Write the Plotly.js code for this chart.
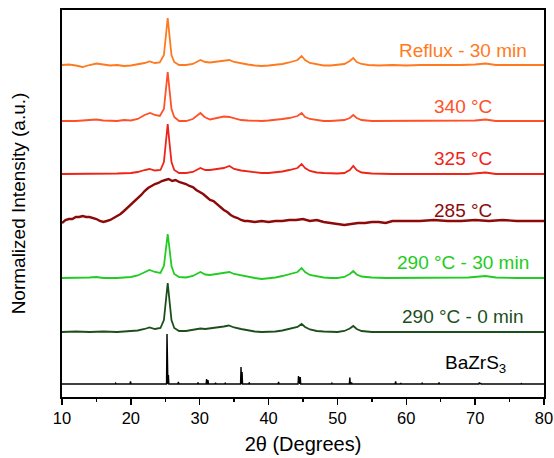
<!DOCTYPE html>
<html>
<head>
<meta charset="utf-8">
<script src="https://cdn.plot.ly/plotly-3.0.1.min.js"></script>
<style>html,body{margin:0;padding:0;background:#fff;}#chart{width:554px;height:458px;}</style>
</head>
<body>
<div id="chart"></div>
<script>
// ---- Data (2θ in degrees, intensity in arbitrary units above each pattern's own baseline) ----
const refluxX = [10,11,12,13,14,15,16,17,18,19,20,21,22,22.7,23.5,24.2,24.8,25.1,25.35,25.6,25.9,26.3,27,28,29,30.1,30.8,31.5,32.5,33.5,34.3,35,36,37,38,39,40,41,42,43,44.2,44.8,45.3,46,47,48,49,50,51,51.8,52.3,52.8,53.5,54.5,56,58,60,62,64,66,68,70,71.5,73,75,77,80];
const refluxY = [0,0.5,-0.5,-2,0,1.5,0.5,-0.5,0,-1,-0.5,0.5,2,3.5,2,2.5,10,30,47,30,10,3,0,0,1,5,3,2.5,3.5,4.5,5,3,1.5,0.5,-0.5,-1,-0.5,0,1,2.5,5,9,5,2,0.5,-0.5,-0.5,0,1,4,7,3,1,0,-0.5,0,-0.5,0,0,-0.5,0,0.5,1.5,0,0,-0.5,0];

const t340X = [10,12,14,15,16,18,19,20,21,22,22.8,23.5,24.2,24.8,25.1,25.35,25.6,25.9,26.3,27,28,29,30.1,30.7,31.5,32.5,33.5,34.3,35,36,37,38,39,40,41,42,43,44.2,44.8,45.3,46,47,48,49,50,51,51.8,52.3,52.8,53.5,55,58,60,62,65,68,70,71.5,73,76,80];
const t340Y = [0,0,1,1.5,0.5,0,1,0.5,2,6,8,6,5,12,32,49,32,12,4,0,0,2,8,4,1.5,3,4.5,4,2.5,1,0.5,0,0,0.5,1,2,3,5,8,4,2,1,0,0,0.5,1,3,6,3,1,0,0,0,0,0,0,0.5,1.5,0,0,0];

const t325X = [10,12,14,16,18,20,21,22,22.7,23.5,24.3,24.8,25.1,25.35,25.6,25.9,26.3,27,28,29,30.1,30.8,31.5,32.5,33.5,34.3,35,36,37,38,39,40,41,42,43,44.2,44.8,45.3,46,47,48,49,50,51,51.8,52.3,52.8,53.5,55,58,60,63,66,69,71.5,73,76,80];
const t325Y = [0,0,0.5,0,0.5,1,2,4,5,3.5,4,12,32,50,32,12,4,1,1,2,6,4,4,5,6,8,5,3.5,2.5,1.5,1,1,1.5,2.5,4,6,10,6,3,1.5,1,0.5,0.5,1,4,8,4,1.5,0.5,0,0,0,0,0,1.5,0,0,0];

const t285X = [10,10.5,11,11.5,12,12.5,13,13.5,14,14.5,15,15.5,16,16.5,17,17.5,18,18.5,19,19.5,20,20.5,21,21.5,22,22.5,23,23.5,24,24.5,25,25.5,26,26.5,27,27.5,28,28.5,29,29.5,30,30.5,31,31.5,32,32.5,33,33.5,34,34.5,35,35.5,36,36.5,37,38,39,40,41,42,43,44,45,46,47,48,49,50,51,52,53,54,55,56,57,58,60,62,64,66,68,70,72,74,76,78,80];
const t285Y = [-2,1,2,2,4,4,5,4,4,3,2,0,-1,0,1,3,5,7,10,13,17,20,23,26,30,33,35,37,38,40,41,42,40,41,39,38,37,35,34,31,29,27,24,21,20,17,14,11,9,6,4,3,1,0,0,-1,0,-1,0,0,1,1,2,0,1,-1,-2,-3,-4,-3,-2,-2,-1,-1,-2,0,0,0,1,0,0,1,0,1,0,0,0];

const t29030X = [10,12,14,15,16,18,19,20,21,22,22.7,23.5,24.3,24.8,25.1,25.35,25.6,25.9,26.3,27,28,29,30.1,30.8,31.5,32.5,33.5,34.3,35,36,37,38,39,40,41,42,43,44.2,44.8,45.3,46,47,48,49,50,51,51.8,52.3,52.8,53.5,55,57,60,63,66,69,71.5,73,76,80];
const t29030Y = [0,0,0.5,1,0,0,0.5,1,2.5,6,8,6,5,12,30,44,30,12,4,1,0.5,2,6,3.5,3,4,5,6,4,2.5,1,0,-1,-0.5,0.5,2,4,6,10,6,3,1.5,0.5,0,0,1,4,7,3.5,1.5,0.5,0,0,0,0,0.5,2,0.5,0,0];

const t2900X = [10,12,14,16,18,19,20,21,22,22.7,23.5,24.3,24.8,25.1,25.35,25.6,25.9,26.3,27,28,29,30.1,30.8,31.5,32.5,33.5,34.2,35,36,37,38,39,40,41,42,43,44.2,44.8,45.3,46,47,48,49,50,51,51.8,52.3,52.8,53.5,55,58,60,63,66,70,73,76,80];
const t2900Y = [0,0.5,0,0.5,0,0.5,0.5,1.5,3,4.5,3,4,12,32,49,32,12,4,1,1,2,3.5,3,3.5,4.5,5.5,6.5,4.5,3,1.5,0.5,0,0,0.5,1.5,3,5,8,5,2.5,1,0.5,0,0,1,3.5,6,3,1,0,0,0,0,0,0,0,0,0];

// BaZrS3 reference pattern: line positions (2θ) and heights
const refPos = [17.8,19.95,25.25,25.45,26.9,29.75,31.0,31.2,32.3,33.7,36.0,36.15,37.2,41.45,44.35,44.6,49.2,51.8,52.05,58.45,59.2,62.3,64.75,65.2,70.6,70.8,76.7];
const refH   = [0.8,2.5,50,9,2,1.5,5,4,1.2,0.8,17,12,1.5,2,8,7,0.8,6.5,1.5,2.5,1,0.8,1.5,0.6,1.5,1,0.5];

const labels = ['Reflux - 30 min','340 °C','325 °C','285 °C','290 °C - 30 min','290 °C - 0 min','BaZrS<sub>3</sub>'];
const xTicks = [10,20,30,40,50,60,70,80];

// ---- Stacking and styling ----
const offsets = [332,276,223,176,119,65,13];
const colors = ['#FF7A1E','#FF5028','#EE2418','#8C0A0A','#22CC22','#1D4F1D','#000000'];
const widths = [1.8,1.8,1.8,2.4,1.8,1.8,1.4];

const series = [[refluxX,refluxY],[t340X,t340Y],[t325X,t325Y],[t285X,t285Y],[t29030X,t29030Y],[t2900X,t2900Y]];

// build reference stick pattern as a line
const refX = [10], refY = [0];
refPos.forEach((p,i)=>{ refX.push(p-0.07,p,p+0.07); refY.push(0,refH[i],0); });
refX.push(80); refY.push(0);
series.push([refX,refY]);

const traces = series.map((s,i)=>({
  type:'scatter', mode:'lines',
  x:s[0], y:s[1].map(v=>v+offsets[i]),
  line:{color:colors[i], width:widths[i]},
  name:labels[i], showlegend:false, hoverinfo:'skip'
}));

const labelX = [68.2,68.2,68.2,68.2,68.2,68.2,70.1];
const labelY = [347,291,239,187,135,81,33];
const annotations = labels.map((t,i)=>({
  text:t, x:labelX[i], y:labelY[i], xref:'x', yref:'y',
  showarrow:false, xanchor:'center', yanchor:'middle',
  font:{family:'Arial, Liberation Sans, sans-serif', size:19, color:colors[i]}
}));

const layout = {
  width:554, height:458,
  margin:{l:62, r:10, t:10, b:61},
  paper_bgcolor:'#fff', plot_bgcolor:'#fff',
  font:{family:'Arial, Liberation Sans, sans-serif', color:'#000'},
  xaxis:{
    range:[10,80], tickvals:xTicks, ticktext:xTicks.map(String),
    ticks:'outside', ticklen:6, tickwidth:1.5, tickcolor:'#000',
    minor:{dtick:5, tick0:5, ticks:'outside', ticklen:3, tickwidth:1.5, tickcolor:'#000', showgrid:false},
    showline:true, linecolor:'#000', linewidth:1.6, mirror:true,
    showgrid:false, zeroline:false,
    tickfont:{family:'Arial, Liberation Sans, sans-serif', size:16.5, color:'#000'},
    title:{text:'2θ (Degrees)', font:{family:'Arial, Liberation Sans, sans-serif', size:20, color:'#000'}, standoff:10}
  },
  yaxis:{
    range:[0,387], showticklabels:false, ticks:'',
    showline:true, linecolor:'#000', linewidth:1.6, mirror:true,
    showgrid:false, zeroline:false,
    title:{text:'Normalized Intensity (a.u.)', font:{family:'Arial, Liberation Sans, sans-serif', size:19, color:'#000'}, standoff:30}
  },
  annotations:annotations
};

Plotly.newPlot('chart', traces, layout, {displayModeBar:false, staticPlot:true});
</script>
</body>
</html>
